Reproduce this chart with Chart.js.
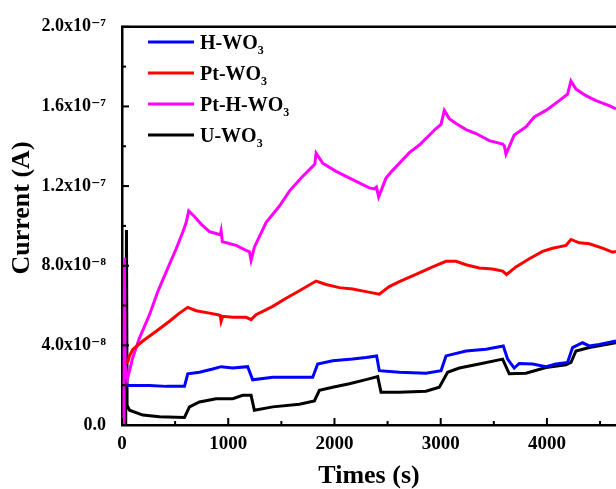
<!DOCTYPE html>
<html>
<head>
<meta charset="utf-8">
<script src="https://cdn.jsdelivr.net/npm/chart.js@4.4.1/dist/chart.umd.min.js"></script>
<style>
  html, body { margin: 0; padding: 0; background: #fff; }
  #wrap { width: 616px; height: 489px; position: relative; }
</style>
</head>
<body>
<div id="wrap"><canvas id="c" width="616" height="489"></canvas></div>
<script>
// Currents are given in units of 1e-8 A, times in seconds
const seriesNames = ['H-WO\u2083', 'Pt-WO\u2083', 'Pt-H-WO\u2083', 'U-WO\u2083'];
const legendBase = ['H-WO', 'Pt-WO', 'Pt-H-WO', 'U-WO'];
const seriesColors = ['#0000ff', '#ff0000', '#ff00ff', '#000000'];
const yTitle = 'Current (A)';
const xTitle = 'Times (s)';

const hTime = [50, 71, 259, 416, 588, 619, 729, 854, 933, 1042, 1183, 1230, 1419, 1670, 1795, 1842, 1983, 2171, 2297, 2397, 2422, 2611, 2861, 3003, 3050, 3238, 3426, 3589, 3630, 3692, 3739, 3865, 3991, 4085, 4194, 4241, 4335, 4398, 4492, 4650];
const hCurrent = [2.0, 1.99, 1.99, 1.94, 1.94, 2.57, 2.65, 2.81, 2.93, 2.86, 2.93, 2.27, 2.4, 2.4, 2.4, 3.06, 3.23, 3.31, 3.39, 3.47, 2.73, 2.65, 2.6, 2.73, 3.47, 3.72, 3.81, 3.97, 3.31, 2.86, 3.09, 3.06, 2.93, 3.06, 3.14, 3.89, 4.13, 3.97, 4.05, 4.22];

const ptTime = [40, 57, 71, 102, 196, 322, 447, 541, 619, 698, 823, 901, 925, 933, 948, 1042, 1168, 1215, 1262, 1419, 1545, 1670, 1827, 1921, 2046, 2171, 2297, 2422, 2516, 2611, 2767, 2924, 3050, 3144, 3238, 3363, 3488, 3583, 3620, 3708, 3834, 3959, 4053, 4179, 4226, 4304, 4398, 4523, 4617, 4650];
const ptCurrent = [3.1, 3.2, 3.47, 3.8, 4.22, 4.71, 5.21, 5.62, 5.91, 5.74, 5.62, 5.54, 5.5, 5.21, 5.46, 5.41, 5.41, 5.29, 5.54, 5.96, 6.37, 6.74, 7.23, 7.06, 6.9, 6.83, 6.7, 6.57, 6.95, 7.2, 7.56, 7.94, 8.22, 8.22, 8.05, 7.89, 7.83, 7.73, 7.56, 7.94, 8.35, 8.72, 8.88, 9.02, 9.32, 9.15, 9.1, 8.88, 8.68, 8.72];

const pthTime = [0, 18, 23, 30, 50, 71, 102, 165, 259, 337, 416, 510, 572, 604, 628, 682, 745, 823, 901, 925, 933, 945, 964, 1074, 1168, 1200, 1215, 1246, 1356, 1482, 1576, 1686, 1795, 1815, 1827, 1889, 2015, 2171, 2328, 2375, 2395, 2416, 2485, 2548, 2705, 2799, 2956, 3003, 3034, 3081, 3144, 3238, 3332, 3457, 3583, 3600, 3614, 3692, 3802, 3881, 3991, 4116, 4194, 4226, 4273, 4367, 4461, 4586, 4650];
const pthCurrent = [0, 0, 8.4, 3.0, 2.3, 2.73, 3.39, 4.38, 5.54, 6.7, 7.69, 8.85, 9.68, 10.17, 10.75, 10.47, 10.09, 9.71, 9.59, 9.55, 9.75, 9.2, 9.18, 9.02, 8.77, 8.7, 8.27, 8.93, 10.17, 11.0, 11.75, 12.41, 12.99, 13.1, 13.65, 13.15, 12.74, 12.32, 11.91, 11.86, 11.95, 11.46, 12.4, 12.79, 13.68, 14.06, 14.89, 15.1, 15.8, 15.38, 15.14, 14.84, 14.64, 14.28, 14.11, 14.0, 13.6, 14.56, 14.97, 15.47, 15.8, 16.29, 16.62, 17.28, 16.87, 16.54, 16.29, 16.04, 15.88];

const uTime = [35, 42, 48, 71, 196, 353, 588, 635, 729, 886, 1042, 1136, 1215, 1246, 1419, 1670, 1811, 1858, 1983, 2140, 2297, 2407, 2438, 2611, 2861, 2987, 3065, 3175, 3363, 3583, 3645, 3802, 3991, 4179, 4226, 4273, 4398, 4650];
const uCurrent = [0, 9.8, 1.0, 0.74, 0.5, 0.41, 0.38, 0.91, 1.16, 1.32, 1.32, 1.49, 1.49, 0.74, 0.91, 1.04, 1.21, 1.74, 1.9, 2.07, 2.28, 2.43, 1.65, 1.65, 1.7, 1.9, 2.65, 2.86, 3.06, 3.31, 2.57, 2.6, 2.89, 3.03, 3.14, 3.72, 3.89, 4.13];

const xTickValues = [0, 1000, 2000, 3000, 4000];
const yTickLabels = ['0.0', '4.0x10\u207B\u2078', '8.0x10\u207B\u2078', '1.2x10\u207B\u2077', '1.6x10\u207B\u2077', '2.0x10\u207B\u2077'];

const allTimes = [hTime, ptTime, pthTime, uTime];
const allCurrents = [hCurrent, ptCurrent, pthCurrent, uCurrent];

function pairs(t, v) { return t.map((x, i) => ({ x: x, y: v[i] })); }

const FONT = "'Liberation Serif', 'Times New Roman', 'DejaVu Serif', serif";

const decorPlugin = {
  id: 'decor',
  afterDatasetsDraw(chart) {
    const ctx = chart.ctx;
    const a = chart.chartArea;
    const xs = chart.scales.x, ys = chart.scales.y;
    ctx.save();
    ctx.strokeStyle = '#000';
    ctx.lineWidth = 2.5;
    ctx.beginPath();
    ctx.moveTo(a.left - 1, a.top);
    ctx.lineTo(a.right, a.top);
    ctx.stroke();
    ctx.lineWidth = 2;
    for (let v = 0; v <= xs.max; v += 500) {
      const px = xs.getPixelForValue(v);
      const len = (v % 1000 === 0) ? 7 : 4;
      ctx.beginPath(); ctx.moveTo(px, a.bottom); ctx.lineTo(px, a.bottom - len); ctx.stroke();
    }
    for (let v = 0; v <= ys.max; v += 2) {
      const py = ys.getPixelForValue(v);
      const len = (v % 4 === 0) ? 7 : 4;
      ctx.beginPath(); ctx.moveTo(a.left, py); ctx.lineTo(a.left + len, py); ctx.stroke();
    }
    // legend inside the plot
    const ly = [42, 73, 104, 135];
    chart.data.datasets.forEach((ds, i) => {
      ctx.strokeStyle = ds.borderColor;
      ctx.lineWidth = 3;
      ctx.beginPath(); ctx.moveTo(148, ly[i]); ctx.lineTo(194, ly[i]); ctx.stroke();
      ctx.fillStyle = '#000';
      ctx.textBaseline = 'alphabetic';
      ctx.textAlign = 'left';
      ctx.font = 'bold 20px ' + FONT;
      const base = legendBase[i];
      ctx.fillText(base, 200, ly[i] + 7);
      const w = ctx.measureText(base).width;
      ctx.font = 'bold 12px ' + FONT;
      ctx.fillText('3', 200 + w, ly[i] + 12);
    });
    // y-axis title
    ctx.save();
    ctx.translate(22, 208);
    ctx.rotate(-Math.PI / 2);
    ctx.fillStyle = '#000';
    ctx.font = 'bold 26px ' + FONT;
    ctx.textAlign = 'center';
    ctx.textBaseline = 'middle';
    ctx.fillText(yTitle, 0, 0);
    ctx.restore();
    ctx.restore();
  }
};

new Chart(document.getElementById('c'), {
  type: 'line',
  data: {
    datasets: seriesNames.map((name, i) => ({
      label: name,
      data: pairs(allTimes[i], allCurrents[i]),
      borderColor: seriesColors[i],
      backgroundColor: seriesColors[i],
      borderWidth: 3,
      pointRadius: 0,
      tension: 0,
      fill: false
    }))
  },
  options: {
    responsive: false,
    animation: false,
    devicePixelRatio: 1,
    layout: { padding: { top: 22, right: 0, left: 0, bottom: 0 } },
    plugins: { legend: { display: false }, tooltip: { enabled: false } },
    scales: {
      x: {
        type: 'linear', min: 0, max: 4650,
        afterFit(s) { s.height = 64; },
        afterBuildTicks(s) { s.ticks = xTickValues.map(v => ({ value: v })); },
        grid: { display: false, drawTicks: false },
        border: { display: true, color: '#000', width: 2.5 },
        ticks: { padding: 8, color: '#000', font: { family: FONT, size: 19, weight: 'bold' }, maxRotation: 0,
                 callback: (v) => String(v) },
        title: { display: true, text: xTitle, color: '#000', padding: { top: 0, bottom: 0 },
                 font: { family: FONT, size: 26, weight: 'bold', lineHeight: 1 } }
      },
      y: {
        type: 'linear', min: 0, max: 20,
        afterFit(s) { s.width = 122; },
        afterBuildTicks(s) { s.ticks = yTickLabels.map((l, i) => ({ value: i * 4 })); },
        grid: { display: false, drawTicks: false },
        border: { display: true, color: '#000', width: 2.5 },
        ticks: { padding: 16, color: '#000', font: { family: FONT, size: 18, weight: 'bold' },
                 callback: (v) => yTickLabels[Math.round(v / 4)] },
        title: { display: false, text: yTitle }
      }
    }
  },
  plugins: [decorPlugin]
});
</script>
</body>
</html>
